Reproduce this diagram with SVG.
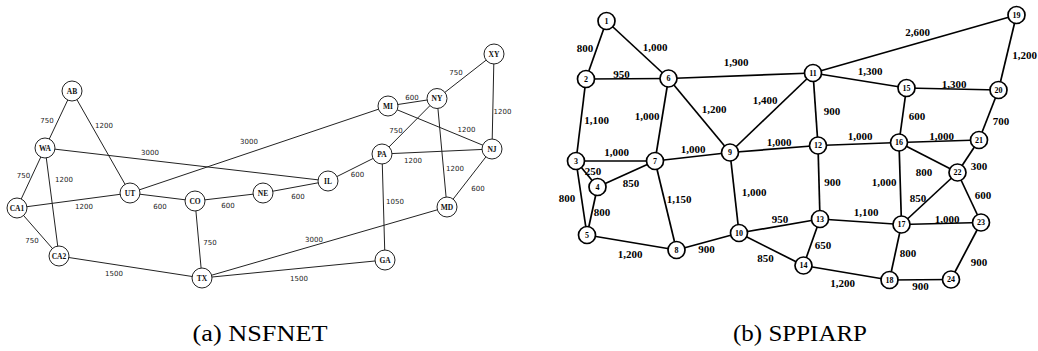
<svg xmlns="http://www.w3.org/2000/svg" width="1038" height="351" viewBox="0 0 1038 351">
<style>
.bg{fill:#fff}
.le{stroke:#222;stroke-width:1;fill:none}
.ln circle{fill:#fff;stroke:#222;stroke-width:1}
.ln text{font-family:"Liberation Serif",serif;font-size:7.5px;font-weight:bold;fill:#111;text-anchor:middle}
.ll{font-family:"DejaVu Sans",sans-serif;font-size:7px;fill:#222;text-anchor:middle}
.re{stroke:#000;stroke-width:1.7;fill:none}
.rn circle{fill:#fff;stroke:#000;stroke-width:1.7}
.rn text{font-family:"Liberation Serif",serif;font-size:8px;font-weight:bold;fill:#000;text-anchor:middle}
.rl{font-family:"Liberation Serif",serif;font-size:11px;font-weight:bold;fill:#000;text-anchor:middle}
.cap{font-family:"Liberation Serif",serif;font-size:24px;fill:#000;text-anchor:middle}
</style>
<rect class="bg" x="0" y="0" width="1038" height="351"/>

<!-- NSFNET connectors -->
<g id="nsf-connectors">
<line class="le" x1="72" y1="91" x2="45" y2="148"/>
<line class="le" x1="72" y1="91" x2="130" y2="193"/>
<line class="le" x1="45" y1="148" x2="328" y2="181"/>
<line class="le" x1="45" y1="148" x2="17" y2="208"/>
<line class="le" x1="45" y1="148" x2="59" y2="256"/>
<line class="le" x1="17" y1="208" x2="130" y2="193"/>
<line class="le" x1="17" y1="208" x2="59" y2="256"/>
<line class="le" x1="130" y1="193" x2="195" y2="201"/>
<line class="le" x1="130" y1="193" x2="388" y2="106"/>
<line class="le" x1="195" y1="201" x2="263" y2="193"/>
<line class="le" x1="195" y1="201" x2="202" y2="278"/>
<line class="le" x1="59" y1="256" x2="202" y2="278"/>
<line class="le" x1="263" y1="193" x2="328" y2="181"/>
<line class="le" x1="328" y1="181" x2="382" y2="154"/>
<line class="le" x1="388" y1="106" x2="437" y2="98.5"/>
<line class="le" x1="388" y1="106" x2="492" y2="149"/>
<line class="le" x1="437" y1="98.5" x2="494" y2="54"/>
<line class="le" x1="437" y1="98.5" x2="382" y2="154"/>
<line class="le" x1="437" y1="98.5" x2="447" y2="207"/>
<line class="le" x1="494" y1="54" x2="492" y2="149"/>
<line class="le" x1="382" y1="154" x2="492" y2="149"/>
<line class="le" x1="382" y1="154" x2="385" y2="260"/>
<line class="le" x1="492" y1="149" x2="447" y2="207"/>
<line class="le" x1="447" y1="207" x2="202" y2="278"/>
<line class="le" x1="202" y1="278" x2="385" y2="260"/>
<text class="ll" x="47" y="122.5">750</text>
<text class="ll" x="104" y="127.5">1200</text>
<text class="ll" x="150" y="154.5">3000</text>
<text class="ll" x="23.5" y="177.5">750</text>
<text class="ll" x="64" y="181.5">1200</text>
<text class="ll" x="84" y="208.5">1200</text>
<text class="ll" x="32" y="242.5">750</text>
<text class="ll" x="160" y="208.5">600</text>
<text class="ll" x="249" y="143.5">3000</text>
<text class="ll" x="228" y="207.5">600</text>
<text class="ll" x="210" y="244.5">750</text>
<text class="ll" x="114" y="275.5">1500</text>
<text class="ll" x="298" y="198.5">600</text>
<text class="ll" x="357.5" y="177">600</text>
<text class="ll" x="412" y="100">600</text>
<text class="ll" x="466.5" y="131.5">1200</text>
<text class="ll" x="456" y="74.5">750</text>
<text class="ll" x="396" y="132.5">750</text>
<text class="ll" x="455" y="170.5">1200</text>
<text class="ll" x="502.5" y="113.5">1200</text>
<text class="ll" x="413" y="162.5">1200</text>
<text class="ll" x="395" y="203.5">1050</text>
<text class="ll" x="478" y="190.5">600</text>
<text class="ll" x="314" y="241.5">3000</text>
<text class="ll" x="299" y="280.5">1500</text>
</g>

<!-- NSFNET nodes -->
<g id="n-AB" class="ln"><circle cx="72" cy="91" r="10"/><text x="72" y="93.8">AB</text></g>
<g id="n-WA" class="ln"><circle cx="45" cy="148" r="10"/><text x="45" y="150.8">WA</text></g>
<g id="n-CA1" class="ln"><circle cx="17" cy="208" r="10"/><text x="17" y="210.8">CA1</text></g>
<g id="n-CA2" class="ln"><circle cx="59" cy="256" r="10"/><text x="59" y="258.8">CA2</text></g>
<g id="n-UT" class="ln"><circle cx="130" cy="193" r="10"/><text x="130" y="195.8">UT</text></g>
<g id="n-CO" class="ln"><circle cx="195" cy="201" r="10"/><text x="195" y="203.8">CO</text></g>
<g id="n-TX" class="ln"><circle cx="202" cy="278" r="10"/><text x="202" y="280.8">TX</text></g>
<g id="n-NE" class="ln"><circle cx="263" cy="193" r="10"/><text x="263" y="195.8">NE</text></g>
<g id="n-IL" class="ln"><circle cx="328" cy="181" r="10"/><text x="328" y="183.8">IL</text></g>
<g id="n-PA" class="ln"><circle cx="382" cy="154" r="10"/><text x="382" y="156.8">PA</text></g>
<g id="n-MI" class="ln"><circle cx="388" cy="106" r="10"/><text x="388" y="108.8">MI</text></g>
<g id="n-NY" class="ln"><circle cx="437" cy="98.5" r="10"/><text x="437" y="101.3">NY</text></g>
<g id="n-XY" class="ln"><circle cx="494" cy="54" r="10"/><text x="494" y="56.8">XY</text></g>
<g id="n-NJ" class="ln"><circle cx="492" cy="149" r="10"/><text x="492" y="151.8">NJ</text></g>
<g id="n-MD" class="ln"><circle cx="447" cy="207" r="10"/><text x="447" y="209.8">MD</text></g>
<g id="n-GA" class="ln"><circle cx="385" cy="260" r="10"/><text x="385" y="262.8">GA</text></g>

<!-- SPPIARP connectors -->
<g id="sp-connectors">
<line class="re" x1="606.5" y1="21" x2="586" y2="79"/>
<line class="re" x1="606.5" y1="21" x2="668.5" y2="78.5"/>
<line class="re" x1="586" y1="79" x2="668.5" y2="78.5"/>
<line class="re" x1="586" y1="79" x2="576" y2="161"/>
<line class="re" x1="668.5" y1="78.5" x2="813" y2="73"/>
<line class="re" x1="668.5" y1="78.5" x2="655" y2="161"/>
<line class="re" x1="668.5" y1="78.5" x2="730" y2="152.5"/>
<line class="re" x1="576" y1="161" x2="655" y2="161"/>
<line class="re" x1="576" y1="161" x2="597.5" y2="187"/>
<line class="re" x1="576" y1="161" x2="587" y2="235"/>
<line class="re" x1="597.5" y1="187" x2="655" y2="161"/>
<line class="re" x1="597.5" y1="187" x2="587" y2="235"/>
<line class="re" x1="655" y1="161" x2="730" y2="152.5"/>
<line class="re" x1="655" y1="161" x2="676.5" y2="250"/>
<line class="re" x1="587" y1="235" x2="676.5" y2="250"/>
<line class="re" x1="730" y1="152.5" x2="813" y2="73"/>
<line class="re" x1="730" y1="152.5" x2="818" y2="145.5"/>
<line class="re" x1="730" y1="152.5" x2="739" y2="233"/>
<line class="re" x1="676.5" y1="250" x2="739" y2="233"/>
<line class="re" x1="739" y1="233" x2="820" y2="219"/>
<line class="re" x1="739" y1="233" x2="803.5" y2="265.5"/>
<line class="re" x1="813" y1="73" x2="1016.5" y2="15"/>
<line class="re" x1="813" y1="73" x2="906.5" y2="88"/>
<line class="re" x1="813" y1="73" x2="818" y2="145.5"/>
<line class="re" x1="818" y1="145.5" x2="899" y2="142.5"/>
<line class="re" x1="818" y1="145.5" x2="820" y2="219"/>
<line class="re" x1="906.5" y1="88" x2="998.5" y2="90"/>
<line class="re" x1="906.5" y1="88" x2="899" y2="142.5"/>
<line class="re" x1="1016.5" y1="15" x2="998.5" y2="90"/>
<line class="re" x1="998.5" y1="90" x2="979" y2="140"/>
<line class="re" x1="899" y1="142.5" x2="979" y2="140"/>
<line class="re" x1="899" y1="142.5" x2="957.5" y2="172.5"/>
<line class="re" x1="899" y1="142.5" x2="901.5" y2="224.5"/>
<line class="re" x1="979" y1="140" x2="957.5" y2="172.5"/>
<line class="re" x1="957.5" y1="172.5" x2="901.5" y2="224.5"/>
<line class="re" x1="957.5" y1="172.5" x2="981" y2="222.5"/>
<line class="re" x1="820" y1="219" x2="901.5" y2="224.5"/>
<line class="re" x1="820" y1="219" x2="803.5" y2="265.5"/>
<line class="re" x1="901.5" y1="224.5" x2="981" y2="222.5"/>
<line class="re" x1="901.5" y1="224.5" x2="889.5" y2="280"/>
<line class="re" x1="803.5" y1="265.5" x2="889.5" y2="280"/>
<line class="re" x1="889.5" y1="280" x2="951" y2="279.5"/>
<line class="re" x1="981" y1="222.5" x2="951" y2="279.5"/>
<text class="rl" x="585" y="51.5">800</text>
<text class="rl" x="655" y="50.5">1,000</text>
<text class="rl" x="621.5" y="77.5">950</text>
<text class="rl" x="596.5" y="124">1,100</text>
<text class="rl" x="736" y="66">1,900</text>
<text class="rl" x="647" y="119.5">1,000</text>
<text class="rl" x="714" y="113">1,200</text>
<text class="rl" x="616.5" y="155.5">1,000</text>
<text class="rl" x="593" y="175">250</text>
<text class="rl" x="567" y="202">800</text>
<text class="rl" x="631" y="186.5">850</text>
<text class="rl" x="602" y="216">800</text>
<text class="rl" x="693" y="153">1,000</text>
<text class="rl" x="679" y="202.5">1,150</text>
<text class="rl" x="630" y="258">1,200</text>
<text class="rl" x="765" y="104">1,400</text>
<text class="rl" x="779" y="145.5">1,000</text>
<text class="rl" x="754" y="196">1,000</text>
<text class="rl" x="706.5" y="253">900</text>
<text class="rl" x="780" y="223">950</text>
<text class="rl" x="765.5" y="261.5">850</text>
<text class="rl" x="917.5" y="35.5">2,600</text>
<text class="rl" x="870" y="75">1,300</text>
<text class="rl" x="832" y="115">900</text>
<text class="rl" x="860" y="140">1,000</text>
<text class="rl" x="832.5" y="186">900</text>
<text class="rl" x="954" y="88">1,300</text>
<text class="rl" x="917" y="119.5">600</text>
<text class="rl" x="1024.5" y="58.5">1,200</text>
<text class="rl" x="1001" y="124.5">700</text>
<text class="rl" x="941.5" y="140">1,000</text>
<text class="rl" x="924" y="175.5">800</text>
<text class="rl" x="884" y="186">1,000</text>
<text class="rl" x="979" y="169.5">300</text>
<text class="rl" x="918" y="202">850</text>
<text class="rl" x="983" y="198.5">600</text>
<text class="rl" x="866" y="216">1,100</text>
<text class="rl" x="823" y="249">650</text>
<text class="rl" x="947" y="223">1,000</text>
<text class="rl" x="908" y="256.5">800</text>
<text class="rl" x="842.5" y="286.5">1,200</text>
<text class="rl" x="920.5" y="290">900</text>
<text class="rl" x="979" y="265.5">900</text>
</g>

<!-- SPPIARP nodes -->
<g id="s-1" class="rn"><circle cx="606.5" cy="21" r="8.5"/><text x="606.5" y="23.8">1</text></g>
<g id="s-2" class="rn"><circle cx="586" cy="79" r="8.5"/><text x="586" y="81.8">2</text></g>
<g id="s-3" class="rn"><circle cx="576" cy="161" r="8.5"/><text x="576" y="163.8">3</text></g>
<g id="s-4" class="rn"><circle cx="597.5" cy="187" r="8.5"/><text x="597.5" y="189.8">4</text></g>
<g id="s-5" class="rn"><circle cx="587" cy="235" r="8.5"/><text x="587" y="237.8">5</text></g>
<g id="s-6" class="rn"><circle cx="668.5" cy="78.5" r="8.5"/><text x="668.5" y="81.3">6</text></g>
<g id="s-7" class="rn"><circle cx="655" cy="161" r="8.5"/><text x="655" y="163.8">7</text></g>
<g id="s-8" class="rn"><circle cx="676.5" cy="250" r="8.5"/><text x="676.5" y="252.8">8</text></g>
<g id="s-9" class="rn"><circle cx="730" cy="152.5" r="8.5"/><text x="730" y="155.3">9</text></g>
<g id="s-10" class="rn"><circle cx="739" cy="233" r="8.5"/><text x="739" y="235.8">10</text></g>
<g id="s-11" class="rn"><circle cx="813" cy="73" r="8.5"/><text x="813" y="75.8">11</text></g>
<g id="s-12" class="rn"><circle cx="818" cy="145.5" r="8.5"/><text x="818" y="148.3">12</text></g>
<g id="s-13" class="rn"><circle cx="820" cy="219" r="8.5"/><text x="820" y="221.8">13</text></g>
<g id="s-14" class="rn"><circle cx="803.5" cy="265.5" r="8.5"/><text x="803.5" y="268.3">14</text></g>
<g id="s-15" class="rn"><circle cx="906.5" cy="88" r="8.5"/><text x="906.5" y="90.8">15</text></g>
<g id="s-16" class="rn"><circle cx="899" cy="142.5" r="8.5"/><text x="899" y="145.3">16</text></g>
<g id="s-17" class="rn"><circle cx="901.5" cy="224.5" r="8.5"/><text x="901.5" y="227.3">17</text></g>
<g id="s-18" class="rn"><circle cx="889.5" cy="280" r="8.5"/><text x="889.5" y="282.8">18</text></g>
<g id="s-19" class="rn"><circle cx="1016.5" cy="15" r="8.5"/><text x="1016.5" y="17.8">19</text></g>
<g id="s-20" class="rn"><circle cx="998.5" cy="90" r="8.5"/><text x="998.5" y="92.8">20</text></g>
<g id="s-21" class="rn"><circle cx="979" cy="140" r="8.5"/><text x="979" y="142.8">21</text></g>
<g id="s-22" class="rn"><circle cx="957.5" cy="172.5" r="8.5"/><text x="957.5" y="175.3">22</text></g>
<g id="s-23" class="rn"><circle cx="981" cy="222.5" r="8.5"/><text x="981" y="225.3">23</text></g>
<g id="s-24" class="rn"><circle cx="951" cy="279.5" r="8.5"/><text x="951" y="282.3">24</text></g>

<!-- captions -->
<text class="cap" x="260" y="341" textLength="135" lengthAdjust="spacingAndGlyphs">(a)  NSFNET</text>
<text class="cap" x="800" y="341" textLength="134" lengthAdjust="spacingAndGlyphs">(b)  SPPIARP</text>
</svg>
